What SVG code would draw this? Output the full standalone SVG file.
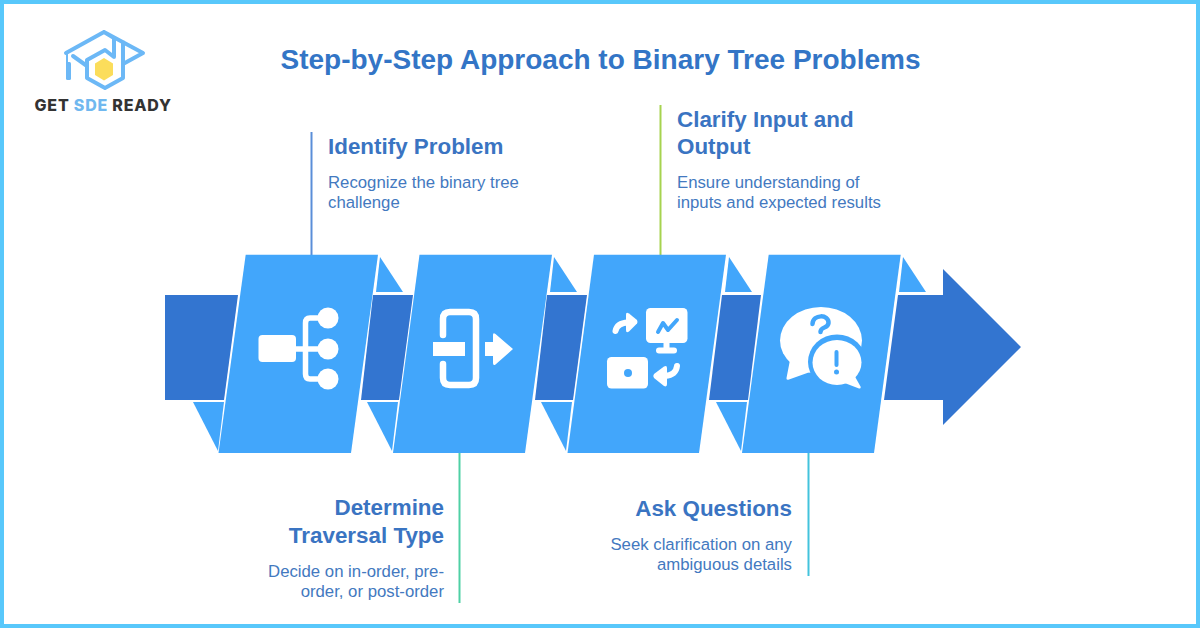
<svg xmlns="http://www.w3.org/2000/svg" width="1200" height="628" viewBox="0 0 1200 628">
<style>
text{font-family:"Liberation Sans",Arial,sans-serif}
.title{font-size:28px;font-weight:700;fill:#3375c6}
.h{font-size:22.400px;font-weight:700;fill:#3a74c2}
.d{font-size:16.750px;fill:#4379c0}
.e{text-anchor:end}
.panel{fill:#42a6fb}
.dark{fill:#3375d0}
.i{fill:#fff}
.s{fill:none;stroke:#fff;stroke-linecap:round;stroke-linejoin:round}
.b{fill:none;stroke:#42a6fb;stroke-linecap:round;stroke-linejoin:round}
.lg{fill:none;stroke:#6cb8f6;stroke-width:4;stroke-linejoin:round;stroke-linecap:round}
</style>
<rect width="1200" height="628" fill="#fff"/>
<rect x="2" y="2" width="1196" height="624" fill="none" stroke="#58c8fb" stroke-width="4"/>
<g id="logo">
<path class="lg" d="M66 53L104 32L143 53L123 64M104 32L114 38V57L105 50L87 60V78L105 88L123 78V42M73 56L87 66"/>
<path d="M67 54V66" fill="none" stroke="#6cb8f6" stroke-width="2"/>
<rect x="66" y="62" width="5" height="18" rx="1.500" fill="#6cb8f6"/>
<polygon points="104,58 113,63.500 113,75 104,80.500 95,75 95,63.500" fill="#fbdd5b"/>
<text x="34.500" y="111" font-size="16" font-weight="800" fill="#333" textLength="136.500" lengthAdjust="spacing" style="font-family:Inter,'Liberation Sans',sans-serif">GET <tspan fill="#70b8ef">SDE</tspan> READY</text>
</g>
<text class="title" x="600.500" y="69" text-anchor="middle">Step-by-Step Approach to Binary Tree Problems</text>
<g id="connectors" stroke-width="2" fill="none">
<line x1="311.500" y1="132" x2="311.500" y2="255" stroke="#5a8ed8"/>
<line x1="459.500" y1="453" x2="459.500" y2="603" stroke="#4fd0a5"/>
<line x1="660.500" y1="105" x2="660.500" y2="255" stroke="#a6d34f"/>
<line x1="808.500" y1="453" x2="808.500" y2="576" stroke="#43c3dc"/>
</g>
<g id="band">
<polygon class="dark" points="165,295 238,295 224,400 165,400"/>
<polygon class="dark" points="373,295 413,295 399,400 361,400"/>
<polygon class="dark" points="547,295 587,295 573,400 535,400"/>
<polygon class="dark" points="722,295 761,295 748,400 709,400"/>
<polygon class="dark" points="898,295 943,295 943,269 1021,347 943,425 943,400 884,400"/>
<g class="panel">
<polygon points="193,402 224,402 218,451"/>
<polygon points="380,257 403,292 376,292"/>
<polygon points="367,402 398,402 392,451"/>
<polygon points="554,257 577,292 550,292"/>
<polygon points="541,402 572,402 566,451"/>
<polygon points="729,257 752,292 725,292"/>
<polygon points="716,402 747,402 741,451"/>
<polygon points="903,257 926,292 899,292"/>
</g>
</g>
<g id="node-identify">
<polygon class="panel" points="245.700,254.700 378,254.700 351,453 218.500,453"/>
<rect class="i" x="258.500" y="335" width="37.500" height="27" rx="4"/>
<path class="s" stroke-width="5.500" d="M295 349H324M324 318H310Q305.500 318 305.500 323V374Q305.500 379 310 379H324"/>
<circle class="i" cx="328" cy="318" r="10.500"/><circle class="i" cx="328" cy="349" r="10.500"/><circle class="i" cx="328" cy="379" r="10.500"/>
<text class="h" x="328" y="154">Identify Problem</text>
<text class="d" x="328" y="188">Recognize the binary tree</text>
<text class="d" x="328" y="208">challenge</text>
</g>
<g id="node-traversal">
<polygon class="panel" points="419.500,254.700 552,254.700 525,453 393,453"/>
<path class="s" stroke-width="6.500" d="M443 335V319Q443 312 450 312H469Q476 312 476 319V378Q476 385 469 385H450Q443 385 443 378V364"/>
<rect class="i" x="433" y="342" width="32" height="14"/>
<path class="i" d="M485 342H493V335Q493 332 495.500 334L513 349L495.500 364.500Q493 366 493 363V356H485Z"/>
<text class="h e" x="444" y="515">Determine</text>
<text class="h e" x="444" y="542.500">Traversal Type</text>
<text class="d e" x="444" y="577">Decide on in-order, pre-</text>
<text class="d e" x="444" y="597">order, or post-order</text>
</g>
<g id="node-clarify">
<polygon class="panel" points="594,254.700 726,254.700 699,453 567.500,453"/>
<rect class="i" x="646" y="308" width="41.500" height="35" rx="4.500"/>
<path class="b" stroke-width="4" d="M658 332L663 323L668 330L677 320"/>
<rect class="i" x="663.500" y="342" width="6" height="8"/>
<rect class="i" x="656" y="347.500" width="21" height="6" rx="3"/>
<rect class="i" x="607" y="357" width="41" height="31.500" rx="4.500"/>
<circle cx="628" cy="373" r="4" fill="#42a6fb"/>
<path class="s" stroke-width="6" d="M615.500 331Q617 323 628 322.500"/>
<path class="i" d="M626 314.500Q626 311.500 629 313.500L637 320Q638 322 637 323.500L629 331.500Q626 333.500 626 330Z"/>
<path class="s" stroke-width="6" d="M677 366Q676 375 665 376"/>
<path class="i" d="M667 368Q667 365 664 366.500L654 374Q652.500 376 654 378L664 386Q667 387.500 667 384Z"/>
<text class="h" x="677" y="127">Clarify Input and</text>
<text class="h" x="677" y="154">Output</text>
<text class="d" x="677" y="188">Ensure understanding of</text>
<text class="d" x="677" y="208">inputs and expected results</text>
</g>
<g id="node-ask">
<polygon class="panel" points="768.700,254.700 900.700,254.700 874,453 742,453"/>
<ellipse class="i" cx="821" cy="340.500" rx="41" ry="33.500"/>
<path class="i" d="M790 360L786.500 378Q786 380.500 789 379.500L810 372Z"/>
<ellipse cx="837" cy="362" rx="29" ry="27.500" fill="#42a6fb"/>
<ellipse class="i" cx="837" cy="362.500" rx="24.500" ry="22.500"/>
<path class="i" d="M842 382L859 388.500Q861.500 389 860.500 386.500L853 373Z"/>
<path class="b" stroke-width="4.500" d="M812.500 324C813 314 829 314 828.500 323C828 329 820.500 326 820.500 332"/>
<path class="b" stroke-width="4" d="M836.500 352V365"/>
<circle cx="836.500" cy="372" fill="#42a6fb" r="2.500"/>
<text class="h e" x="792" y="516">Ask Questions</text>
<text class="d e" x="792" y="550">Seek clarification on any</text>
<text class="d e" x="792" y="570">ambiguous details</text>
</g>
</svg>
